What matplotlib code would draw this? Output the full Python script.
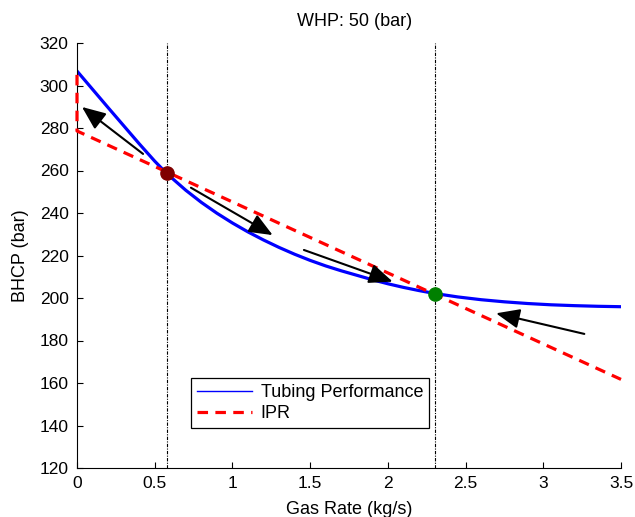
import matplotlib
matplotlib.use("Agg")
import matplotlib.pyplot as plt
from matplotlib.lines import Line2D

plt.rcParams["font.family"] = ["Liberation Sans", "DejaVu Sans"]

# tubing performance curve (BHCP vs gas rate)
tpr_rate = [0.0, 0.2, 0.4, 0.5, 0.577, 0.7, 0.8, 0.9, 1.0, 1.1, 1.2, 1.3,
            1.4, 1.5, 1.6, 1.7, 1.8, 1.9, 2.0, 2.1, 2.2, 2.303, 2.45, 2.6,
            2.75, 2.9, 3.05, 3.2, 3.35, 3.5]
tpr_bhcp = [306.8, 289.6, 272.6, 264.4, 258.6, 250.7, 245.0, 239.9, 235.3,
            231.1, 227.3, 223.8, 220.6, 217.7, 215.1, 212.8, 210.7, 208.6,
            206.7, 205.0, 203.5, 202.1, 200.5, 199.2, 198.2, 197.4, 196.8,
            196.4, 196.1, 195.9]

# inflow performance relationship
ipr_rate = [0.0, 0.0, 3.5]
ipr_bhcp = [305.0, 278.6, 161.7]

# operating points (unstable, stable)
op_rate = [0.577, 2.303]
op_bhcp = [258.6, 201.9]
op_colors = ["#800000", "#008000"]

# direction arrows: (tail, head)
arrow_tails = [(0.425, 267.8), (0.733, 251.9), (1.460, 222.6), (3.264, 183.1)]
arrow_heads = [(0.032, 289.9), (1.259, 229.6), (2.031, 207.7), (2.696, 192.8)]

xticks = [0, 0.5, 1, 1.5, 2, 2.5, 3, 3.5]
xtick_labels = ["0", "0.5", "1", "1.5", "2", "2.5", "3", "3.5"]
yticks = list(range(120, 321, 20))

fig = plt.figure(figsize=(6.35, 5.17), dpi=100)
ax = fig.add_axes([77 / 635, 49 / 517, 544 / 635, 425 / 517])

for x in op_rate:
    ax.axvline(x, color="black", lw=0.8, ls=(0, (3, 1.2, 1, 1.2)), zorder=1)

ax.plot(tpr_rate, tpr_bhcp, color="#0000FF", lw=2.3, zorder=2)
ax.plot(ipr_rate, ipr_bhcp, color="#FF0000", lw=2.3, ls=(0, (3.3, 2.3)),
        zorder=3, clip_on=False)

for x, y, c in zip(op_rate, op_bhcp, op_colors):
    ax.plot(x, y, "o", color=c, ms=9.5, zorder=4)

for tail, head in zip(arrow_tails, arrow_heads):
    ax.annotate(
        "",
        xy=head,
        xytext=tail,
        arrowprops=dict(
            arrowstyle="-|>,head_length=1.2,head_width=0.5",
            mutation_scale=12,
            lw=1.5,
            color="black",
            shrinkA=0,
            shrinkB=0,
        ),
        zorder=5,
    )

ax.set_xlim(0, 3.5)
ax.set_ylim(120, 320)
ax.set_xticks(xticks)
ax.set_xticklabels(xtick_labels)
ax.set_yticks(yticks)
ax.spines["top"].set_visible(False)
ax.spines["right"].set_visible(False)
ax.tick_params(direction="in", length=4, width=0.8, labelsize=12.5, pad=6)

ax.set_xlabel("Gas Rate (kg/s)", fontsize=13, labelpad=7)
ax.set_ylabel("BHCP (bar)", fontsize=13, labelpad=8)
ax.set_title("WHP: 50 (bar)", fontsize=13, pad=12, x=0.51)

handles = [
    Line2D([], [], color="#0000FF", lw=1.0),
    Line2D([], [], color="#FF0000", lw=2.3, ls=(0, (3.3, 2.3))),
]
leg = ax.legend(
    handles,
    ["Tubing Performance", "IPR"],
    loc="lower left",
    bbox_to_anchor=(0.2096, 0.0934),
    borderaxespad=0,
    fontsize=13,
    fancybox=False,
    framealpha=1,
    edgecolor="black",
    borderpad=0.35,
    handlelength=3.0,
    handletextpad=0.5,
    labelspacing=0.2,
)
leg.get_frame().set_linewidth(0.9)

fig.savefig("out.png", dpi=100)
